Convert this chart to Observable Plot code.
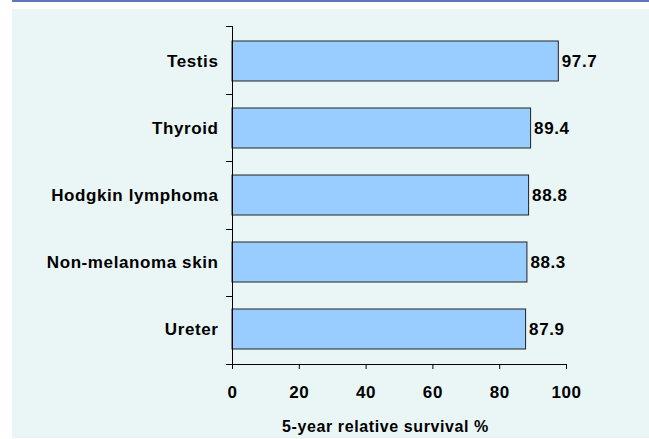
<!DOCTYPE html>
<html><head><meta charset="utf-8">
<script src="https://cdn.jsdelivr.net/npm/d3@7"></script>
<script src="https://cdn.jsdelivr.net/npm/@observablehq/plot@0.6"></script>
<style>
body{margin:0;background:#fff;}
#wrap{position:relative;width:649px;height:439px;overflow:hidden;}
#band{position:absolute;left:12px;top:0;width:637px;height:2px;background:#5A77BD;}
#panel{position:absolute;left:12px;top:9px;width:637px;height:429px;background:#EAF6F6;}
#chart{position:absolute;left:0;top:0;}
</style></head><body>
<div id="wrap"><div id="band"></div><div id="panel"></div><div id="chart"></div></div>
<script>
const categories = ["Testis","Thyroid","Hodgkin lymphoma","Non-melanoma skin","Ureter"];
const survival = [97.7, 89.4, 88.8, 88.3, 87.9];
const xTicks = [0, 20, 40, 60, 80, 100];
const xLabel = "5-year relative survival %";

const data = categories.map((c, i) => ({cancer: c, value: survival[i]}));
const font = "'Liberation Sans', Arial, Helvetica, sans-serif";

// axis lines + ticks on band boundaries (Excel style)
const axisFrame = (index, scales, values, dims) => {
  const g = d3.create("svg:g").attr("stroke", "#000").attr("stroke-width", 1);
  const n = categories.length;
  const top = dims.marginTop, bottom = dims.height - dims.marginBottom;
  const left = dims.marginLeft, right = dims.width - dims.marginRight;
  const step = (bottom - top) / n;
  for (let i = 0; i <= n; i++) {
    const y = Math.round(top + i * step) + 0.5;
    g.append("line").attr("x1", left - 6).attr("x2", left).attr("y1", y).attr("y2", y);
  }
  g.append("line").attr("x1", left + 0.5).attr("x2", left + 0.5).attr("y1", top).attr("y2", bottom + 0.5);
  g.append("line").attr("x1", left).attr("x2", right).attr("y1", bottom + 0.5).attr("y2", bottom + 0.5);
  return g.node();
};

const chart = Plot.plot({
  width: 649, height: 439,
  marginTop: 26, marginBottom: 75, marginLeft: 232, marginRight: 83,
  style: {background: "transparent", fontFamily: font, fontSize: "17px", fontWeight: "bold", color: "#000", letterSpacing: "0.6px", overflow: "visible"},
  x: {domain: [0, 100], ticks: xTicks},
  y: {domain: categories, paddingInner: 0.41, paddingOuter: 0.205, align: 0.5},
  marks: [
    Plot.barX(data, {x: "value", y: "cancer", fill: "#99CCFF", stroke: "#222", strokeWidth: 1}),
    Plot.text(data, {x: "value", y: "cancer", text: d => d.value.toFixed(1), textAnchor: "start", dx: 3, fontSize: 17, fontWeight: "bold", fill: "#000"}),
    axisFrame,
    Plot.axisY({tickSize: 0, tickPadding: 14, label: null, fontSize: 17, fontWeight: "bold"}),
    Plot.axisX({ticks: xTicks, tickSize: 5, tickPadding: 16, label: null, tickFormat: d => String(d), fontSize: 17, fontWeight: "bold"}),
    Plot.text([xLabel], {frameAnchor: "bottom", dy: 67, dx: -14, text: d => d, fontSize: 16, fontWeight: "bold", fill: "#000"})
  ]
});
document.getElementById("chart").appendChild(chart);
</script>
</body></html>
